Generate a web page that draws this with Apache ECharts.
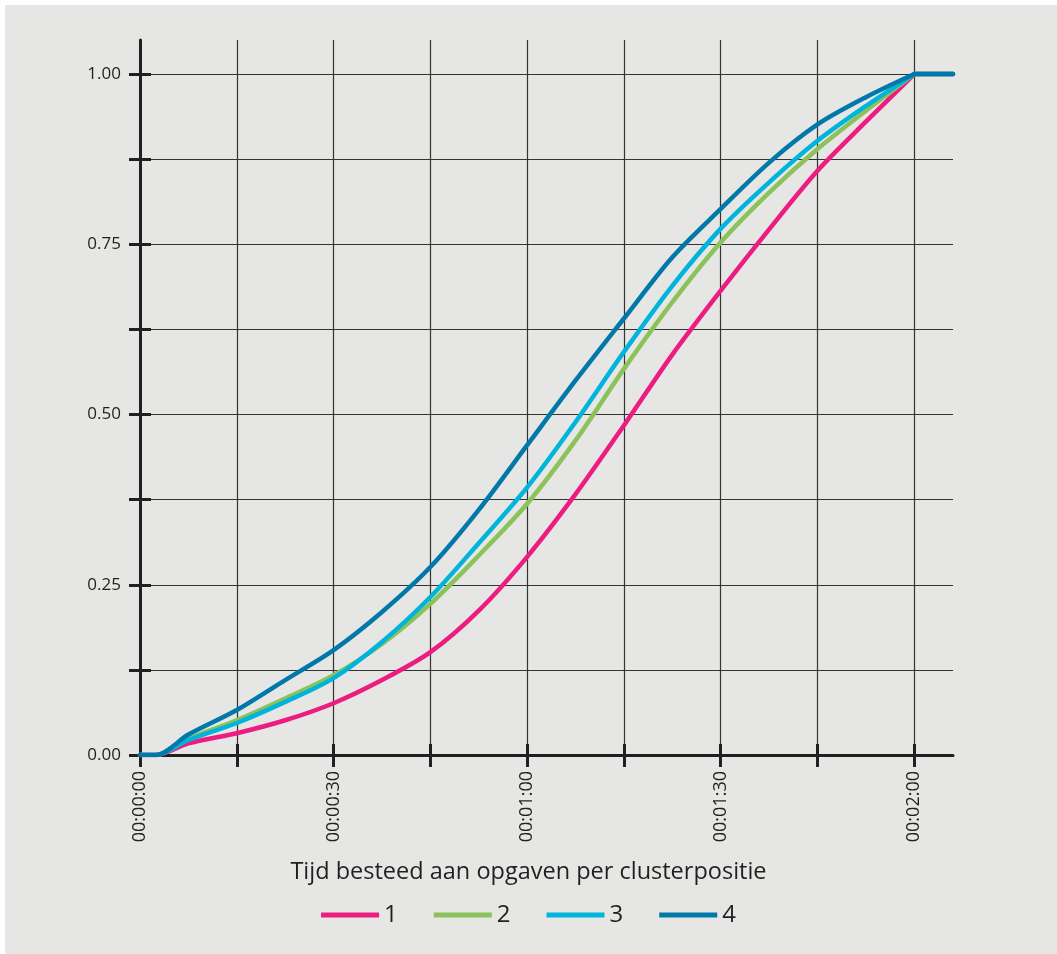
<!DOCTYPE html>
<html>
<head>
<meta charset="utf-8">
<script src="https://cdn.jsdelivr.net/npm/echarts@6/dist/echarts.min.js"></script>
<style>
html,body{margin:0;padding:0;background:#ffffff;}
#chart{width:1057px;height:954px;}
</style>
</head>
<body>
<div id="chart"></div>
<script>
// time in seconds
var times = [0, 2.5, 7.5, 15, 22.5, 30, 37.5, 45, 52.5, 60, 67.5, 75, 82.5, 90, 97.5, 105, 112.5, 120];
var series1 = [0, 0, 0.017, 0.032, 0.051, 0.076, 0.110, 0.151, 0.212, 0.291, 0.383, 0.484, 0.588, 0.682, 0.772, 0.858, 0.930, 1.0];
var series2 = [0, 0, 0.024, 0.051, 0.083, 0.117, 0.163, 0.222, 0.293, 0.369, 0.462, 0.567, 0.665, 0.753, 0.826, 0.890, 0.946, 1.0];
var series3 = [0, 0, 0.022, 0.047, 0.078, 0.113, 0.166, 0.232, 0.311, 0.393, 0.489, 0.592, 0.689, 0.773, 0.841, 0.902, 0.953, 1.0];
var series4 = [0, 0, 0.030, 0.066, 0.110, 0.154, 0.210, 0.276, 0.360, 0.455, 0.550, 0.641, 0.731, 0.802, 0.870, 0.926, 0.966, 1.0];
// plateau after 2:00
var tailTimes = [120, 126];
var tailValues = [1.0, 1.0];
var seriesNames = ['1', '2', '3', '4'];
var seriesColors = ['#ec1c80', '#8cc25a', '#00b4dc', '#0079aa'];
var xTicks = [0, 15, 30, 45, 60, 75, 90, 105, 120];
var xLabels = [0, 30, 60, 90, 120];
var yTicks = [0, 0.125, 0.25, 0.375, 0.5, 0.625, 0.75, 0.875, 1.0];
var yLabels = [0, 0.25, 0.5, 0.75, 1.0];
var xTitle = 'Tijd besteed aan opgaven per clusterpositie';

function pad(n){ return (n < 10 ? '0' : '') + n; }
function fmtTime(s){
  var h = Math.floor(s / 3600), m = Math.floor((s % 3600) / 60), sec = Math.round(s % 60);
  return pad(h) + ':' + pad(m) + ':' + pad(sec);
}

var FONT = 'Open Sans';
var TXT = '#231f20';
var allSeries = [series1, series2, series3, series4];

var chart = echarts.init(document.getElementById('chart'), null, {renderer: 'canvas'});
var axisLineStyle = {color: '#231f20', width: 3};

var seriesList = [];
allSeries.forEach(function(vals, i){
  seriesList.push({
    name: seriesNames[i],
    type: 'line',
    data: times.map(function(t, j){ return [t, vals[j]]; }),
    smooth: 0.3,
    showSymbol: false,
    symbol: 'none',
    color: seriesColors[i],
    lineStyle: {width: 4.5, color: seriesColors[i], cap: 'round', join: 'round'},
    z: 2 + i
  });
});
allSeries.forEach(function(vals, i){
  seriesList.push({
    name: seriesNames[i],
    type: 'line',
    data: tailTimes.map(function(t, j){ return [t, tailValues[j]]; }),
    smooth: false,
    showSymbol: false,
    symbol: 'none',
    color: seriesColors[i],
    lineStyle: {width: 4.5, color: seriesColors[i], cap: 'round', join: 'round'},
    z: 2 + i
  });
});

var option = {
  animation: false,
  backgroundColor: '#ffffff',
  graphic: [{
    type: 'rect', z: -100, silent: true,
    shape: {x: 5, y: 5, width: 1057, height: 954},
    style: {fill: '#e6e6e4'}
  }],
  title: {
    text: xTitle,
    left: 'center',
    top: 855,
    textStyle: {fontFamily: FONT, fontSize: 23.5, fontWeight: 'normal', color: TXT}
  },
  legend: {
    bottom: 22,
    left: 'center',
    itemWidth: 58,
    itemHeight: 5,
    itemGap: 36,
    icon: 'rect',
    textStyle: {fontFamily: FONT, fontSize: 24, color: TXT},
    data: seriesNames
  },
  grid: {left: 140, right: 104, top: 40, bottom: 199, containLabel: false},
  xAxis: [{
    type: 'value', min: 0, max: 126, interval: 15, position: 'bottom',
    axisLine: {show: true, onZero: false, lineStyle: axisLineStyle},
    axisTick: {show: true, length: 12, customValues: xTicks, lineStyle: {color: '#231f20', width: 3}},
    axisLabel: {show: true, customValues: xLabels, rotate: 90, margin: 16, fontFamily: FONT, fontSize: 18, color: TXT,
      formatter: function(v){ return fmtTime(v); }},
    splitLine: {show: true, lineStyle: {color: '#333333', width: 1.2}}
  }, {
    type: 'value', min: 0, max: 126, interval: 15, position: 'bottom', offset: 0,
    axisLine: {show: false, onZero: false},
    axisTick: {show: true, inside: true, length: 11, customValues: xTicks, lineStyle: {color: '#231f20', width: 3}},
    axisLabel: {show: false},
    splitLine: {show: false}
  }],
  yAxis: [{
    type: 'value', min: 0, max: 1.05, interval: 0.125, position: 'left',
    axisLine: {show: true, onZero: false, lineStyle: axisLineStyle},
    axisTick: {show: true, length: 11, customValues: yTicks, lineStyle: {color: '#231f20', width: 3}},
    axisLabel: {show: true, customValues: yLabels, margin: 19, fontFamily: FONT, fontSize: 17, color: TXT,
      formatter: function(v){ return v.toFixed(2); }},
    splitLine: {show: true, lineStyle: {color: '#333333', width: 1.2}}
  }, {
    type: 'value', min: 0, max: 1.05, interval: 0.125, position: 'left', offset: 0,
    axisLine: {show: false, onZero: false},
    axisTick: {show: true, inside: true, length: 11, customValues: yTicks, lineStyle: {color: '#231f20', width: 3}},
    axisLabel: {show: false},
    splitLine: {show: false}
  }],
  series: seriesList
};
chart.setOption(option);
</script>
</body>
</html>
